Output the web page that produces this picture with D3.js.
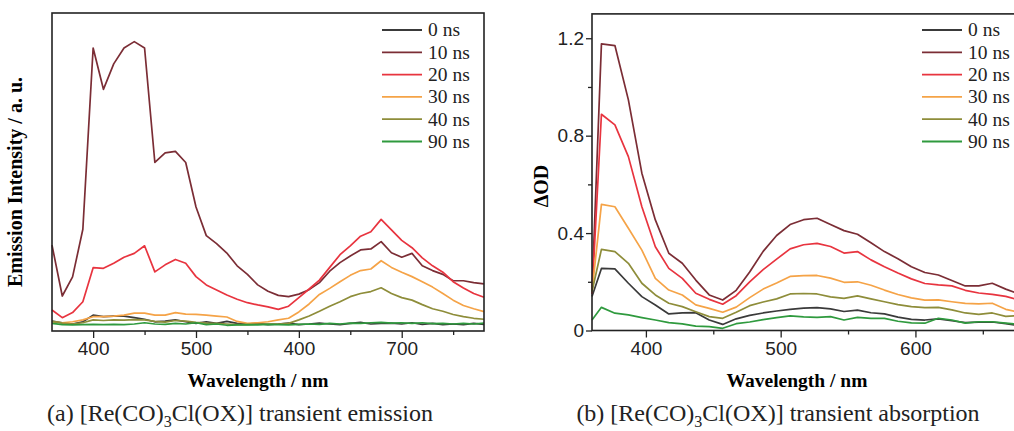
<!DOCTYPE html>
<html>
<head>
	<title>Re(CO)3Cl(OX) transient spectra</title>
	<meta charset="utf-8">
	<style type="text/css">
	body{
		margin:0;
		background:#fff;
		font-family:"Liberation Serif", "DejaVu Serif", serif;
	}
	.frame{
		fill:none;
		stroke:#222;
		stroke-width:1.6;
	}
	.tick line{
		stroke:#222;
		stroke-width:1.3;
	}
	.tick text{
		font-size:19px;
		fill:#222;
	}
	.series{
		fill:none;
		stroke-width:1.7;
		stroke-linejoin:round;
	}
	</style>
	<script type="text/javascript" src="https://cdn.jsdelivr.net/npm/d3@7/dist/d3.min.js"></script>
</head>
<body>
<script type="text/javascript">
	var width = 1014;
	var height = 431;

	// legend / series names and colours
	var delays = ["0 ns", "10 ns", "20 ns", "30 ns", "40 ns", "90 ns"];
	var colors = ["#3a3a3a", "#7b2d35", "#e8343f", "#f5a347", "#8e8d3a", "#2f9a3e"];

	// ---------- (a) transient emission ----------
	var wavelengthA = [360, 370, 380, 390, 400, 410, 420, 430, 440, 450, 460, 470, 480, 490, 500,
		510, 520, 530, 540, 550, 560, 570, 580, 590, 600, 610, 620, 630, 640, 650,
		660, 670, 680, 690, 700, 710, 720, 730, 740, 750, 760, 770, 780];
	var emis0 = [0.031, 0.026, 0.022, 0.029, 0.050, 0.045, 0.047, 0.047, 0.042, 0.037, 0.029, 0.031, 0.035, 0.029, 0.024,
		0.029, 0.024, 0.030, 0.024, 0.022, 0.024, 0.020, 0.022, 0.025, 0.020, 0.022, 0.025, 0.022, 0.020, 0.024,
		0.027, 0.022, 0.024, 0.025, 0.022, 0.026, 0.021, 0.024, 0.020, 0.022, 0.020, 0.024, 0.021];
	var emis10 = [0.270, 0.110, 0.170, 0.320, 0.890, 0.760, 0.840, 0.890, 0.910, 0.890, 0.530, 0.560, 0.565, 0.530, 0.390,
		0.300, 0.275, 0.245, 0.205, 0.178, 0.145, 0.125, 0.112, 0.108, 0.116, 0.130, 0.152, 0.188, 0.215, 0.236,
		0.255, 0.258, 0.281, 0.246, 0.232, 0.244, 0.205, 0.190, 0.178, 0.158, 0.158, 0.152, 0.148];
	var emis20 = [0.066, 0.042, 0.058, 0.092, 0.199, 0.197, 0.213, 0.232, 0.244, 0.268, 0.186, 0.208, 0.225, 0.213, 0.171,
		0.145, 0.129, 0.113, 0.100, 0.089, 0.082, 0.076, 0.068, 0.078, 0.105, 0.132, 0.160, 0.200, 0.240, 0.268,
		0.298, 0.312, 0.351, 0.318, 0.285, 0.262, 0.230, 0.205, 0.185, 0.155, 0.135, 0.118, 0.106];
	var emis30 = [0.029, 0.026, 0.029, 0.035, 0.045, 0.045, 0.047, 0.050, 0.056, 0.056, 0.050, 0.050, 0.058, 0.053, 0.052,
		0.050, 0.047, 0.044, 0.030, 0.024, 0.026, 0.029, 0.035, 0.040, 0.060, 0.085, 0.115, 0.134, 0.155, 0.175,
		0.190, 0.195, 0.221, 0.200, 0.185, 0.171, 0.155, 0.138, 0.118, 0.097, 0.080, 0.070, 0.061];
	var emis40 = [0.030, 0.025, 0.022, 0.026, 0.035, 0.033, 0.035, 0.034, 0.036, 0.035, 0.030, 0.028, 0.033, 0.031, 0.027,
		0.025, 0.024, 0.022, 0.020, 0.020, 0.022, 0.022, 0.022, 0.024, 0.035, 0.047, 0.062, 0.078, 0.092, 0.108,
		0.118, 0.124, 0.136, 0.118, 0.105, 0.097, 0.083, 0.070, 0.062, 0.052, 0.045, 0.040, 0.037];
	var emis90 = [0.024, 0.020, 0.019, 0.020, 0.021, 0.020, 0.021, 0.020, 0.022, 0.026, 0.022, 0.021, 0.024, 0.022, 0.026,
		0.020, 0.022, 0.018, 0.019, 0.020, 0.019, 0.021, 0.020, 0.019, 0.021, 0.022, 0.021, 0.024, 0.022, 0.025,
		0.024, 0.026, 0.027, 0.025, 0.026, 0.024, 0.026, 0.023, 0.024, 0.022, 0.024, 0.022, 0.025];
	var xTicksA = [400, 500, 600, 700];
	var xTickLabelsA = ["400", "500", "400", "700"];   // as printed in the figure
	var xMinorA = [450, 550, 650, 750];

	// ---------- (b) transient absorption ----------
	var wavelengthB = [360, 367, 377, 387, 397, 407, 417, 427, 437, 447, 457, 467, 477, 487, 497, 507, 517,
		527, 537, 547, 557, 567, 577, 587, 597, 607, 617, 627, 637, 647, 657, 667, 677];
	var od0 = [0.140, 0.255, 0.253, 0.194, 0.139, 0.105, 0.068, 0.072, 0.073, 0.043, 0.025, 0.048, 0.062, 0.072, 0.080, 0.087, 0.092,
		0.094, 0.089, 0.078, 0.084, 0.073, 0.068, 0.055, 0.046, 0.043, 0.048, 0.040, 0.032, 0.034, 0.035, 0.028, 0.020];
	var od10 = [0.160, 1.177, 1.170, 0.947, 0.646, 0.454, 0.317, 0.276, 0.207, 0.146, 0.125, 0.165, 0.240, 0.325, 0.390, 0.435, 0.455,
		0.461, 0.435, 0.410, 0.395, 0.360, 0.324, 0.295, 0.262, 0.238, 0.228, 0.205, 0.183, 0.183, 0.194, 0.170, 0.150];
	var od20 = [0.150, 0.888, 0.844, 0.714, 0.508, 0.344, 0.255, 0.214, 0.153, 0.128, 0.108, 0.143, 0.200, 0.250, 0.293, 0.335, 0.352,
		0.358, 0.345, 0.318, 0.324, 0.290, 0.262, 0.236, 0.212, 0.193, 0.187, 0.183, 0.165, 0.154, 0.148, 0.140, 0.125];
	var od30 = [0.160, 0.518, 0.508, 0.420, 0.330, 0.214, 0.166, 0.146, 0.105, 0.091, 0.075, 0.096, 0.135, 0.170, 0.195, 0.222, 0.225,
		0.226, 0.215, 0.198, 0.200, 0.186, 0.166, 0.148, 0.134, 0.125, 0.126, 0.118, 0.111, 0.109, 0.112, 0.087, 0.075];
	var od40 = [0.160, 0.333, 0.324, 0.276, 0.194, 0.146, 0.112, 0.098, 0.077, 0.057, 0.050, 0.075, 0.102, 0.117, 0.130, 0.150, 0.152,
		0.150, 0.138, 0.132, 0.142, 0.130, 0.118, 0.106, 0.098, 0.094, 0.095, 0.085, 0.072, 0.066, 0.072, 0.058, 0.062];
	var od90 = [0.043, 0.095, 0.071, 0.064, 0.053, 0.043, 0.032, 0.027, 0.018, 0.016, 0.009, 0.028, 0.035, 0.045, 0.053, 0.060, 0.056,
		0.054, 0.057, 0.043, 0.054, 0.050, 0.050, 0.038, 0.031, 0.030, 0.050, 0.043, 0.030, 0.036, 0.036, 0.030, 0.025];
	var xTicksB = [400, 500, 600];
	var xTickLabelsB = ["400", "500", "600"];
	var xMinorB = [450, 550, 650];
	var yTicksB = [0, 0.4, 0.8, 1.2];
	var yTickLabelsB = ["0", "0.4", "0.8", "1.2"];
	var yMinorB = [0.2, 0.6, 1.0];

	var svg = d3.select("body")
				.append("svg")
				.attr("width", width)
				.attr("height", height);

	function drawPanel(p){
		var g = svg.append("g");
		var x = d3.scaleLinear().domain(p.xDomain).range(p.xRange);
		var y = d3.scaleLinear().domain(p.yDomain).range(p.yRange);

		// series
		var line = d3.line()
				.x(function(d){ return x(d[0]); })
				.y(function(d){ return y(d[1]); });
		p.series.forEach(function(vals, i){
			g.append("path")
				.attr("class", "series")
				.datum(d3.zip(p.wl, vals))
				.attr("d", line)
				.style("stroke", colors[i]);
		});

		// frame
		g.append("rect")
			.attr("class", "frame")
			.attr("x", p.xRange[0])
			.attr("y", p.yRange[1])
			.attr("width", p.xRange[1] - p.xRange[0])
			.attr("height", p.yRange[0] - p.yRange[1]);

		// x axis
		var xAxis = d3.axisBottom(x)
				.tickValues(p.xTicks)
				.tickSize(7)
				.tickPadding(4)
				.tickFormat(function(d, i){ return p.xLabels[i]; });
		g.append("g")
			.attr("transform", "translate(0," + p.yRange[0] + ")")
			.call(xAxis)
			.call(function(a){ a.select(".domain").remove(); })
			.selectAll("text").attr("font-family", null).attr("font-size", null);
		g.append("g")
			.attr("transform", "translate(0," + p.yRange[0] + ")")
			.call(d3.axisBottom(x).tickValues(p.xMinor).tickSize(4).tickFormat(""))
			.call(function(a){ a.select(".domain").remove(); });

		// y axis (only where the figure has one)
		if(p.yTicks){
			g.append("g")
				.attr("transform", "translate(" + p.xRange[0] + ",0)")
				.call(d3.axisLeft(y).tickValues(p.yTicks).tickSize(6).tickPadding(2)
					.tickFormat(function(d, i){ return p.yLabels[i]; }))
				.call(function(a){ a.select(".domain").remove(); })
				.selectAll("text").attr("font-family", null).attr("font-size", null);
			g.append("g")
				.attr("transform", "translate(" + p.xRange[0] + ",0)")
				.call(d3.axisLeft(y).tickValues(p.yMinor).tickSize(4).tickFormat(""))
				.call(function(a){ a.select(".domain").remove(); });
		}

		// axis titles
		g.append("text")
			.attr("x", p.xTitleX)
			.attr("y", 387)
			.attr("text-anchor", "middle")
			.style("font-weight", "bold")
			.style("font-size", "19.5px")
			.text("Wavelength / nm");
		g.append("text")
			.attr("transform", "translate(" + p.yTitle[0] + "," + p.yTitle[1] + ") rotate(-90)")
			.attr("text-anchor", "middle")
			.style("font-weight", "bold")
			.style("font-size", "20px")
			.text(p.yTitleText);

		// legend
		var leg = g.append("g").selectAll("g")
				.data(delays)
				.enter()
				.append("g")
				.attr("transform", function(d, i){ return "translate(" + p.legendX + "," + (30 + i * 22.3) + ")"; });
		leg.append("line")
			.attr("x1", 0).attr("x2", 40)
			.style("stroke", function(d, i){ return colors[i]; })
			.style("stroke-width", 1.8);
		leg.append("text")
			.attr("x", 46)
			.attr("dy", "0.33em")
			.style("font-size", "19.5px")
			.style("fill", "#222")
			.text(function(d){ return d; });

		// caption
		var cap = g.append("text")
				.attr("x", p.captionX)
				.attr("y", 421)
				.attr("text-anchor", "middle")
				.style("font-size", "24px")
				.style("fill", "#222");
		cap.append("tspan").text(p.captionPre + " [Re(CO)");
		cap.append("tspan").attr("dy", 6).style("font-size", "16px").text("3");
		cap.append("tspan").attr("dy", -6).text("Cl(OX)] " + p.captionPost);
	}

	drawPanel({
		wl: wavelengthA,
		series: [emis0, emis10, emis20, emis30, emis40, emis90],
		xDomain: [360, 780], xRange: [52, 484],
		yDomain: [0, 1], yRange: [331, 13],
		xTicks: xTicksA, xLabels: xTickLabelsA, xMinor: xMinorA,
		xTitleX: 258,
		yTitle: [22, 182], yTitleText: "Emission Intensity / a. u.",
		legendX: 382,
		captionX: 240, captionPre: "(a)", captionPost: "transient emission"
	});

	drawPanel({
		wl: wavelengthB,
		series: [od0, od10, od20, od30, od40, od90],
		xDomain: [360, 780], xRange: [592, 1158],
		yDomain: [0, 1.3], yRange: [330.5, 13.9],
		xTicks: xTicksB, xLabels: xTickLabelsB, xMinor: xMinorB,
		yTicks: yTicksB, yLabels: yTickLabelsB, yMinor: yMinorB,
		xTitleX: 797,
		yTitle: [548, 186], yTitleText: "ΔOD",
		legendX: 922,
		captionX: 778, captionPre: "(b)", captionPost: "transient absorption"
	});
</script>
</body>
</html>
